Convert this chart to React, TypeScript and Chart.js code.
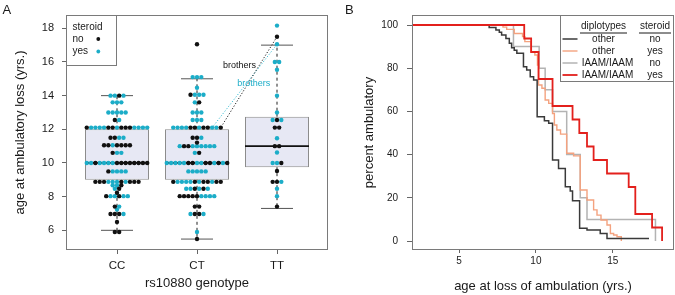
import React, { useEffect, useRef } from "react";
import { Chart, registerables } from "chart.js";

Chart.register(...registerables);

// ---------------- Panel A data ----------------
const GENOTYPES = ["CC", "CT", "TT"];
const Y_TICKS_A = [6, 8, 10, 12, 14, 16, 18];
const WHISKER_LOW = [6.0, 5.48, 7.3];
const BOX_Q1 = [9.0, 9.0, 9.75];
const BOX_MEDIAN = [10.0, 10.0, 11.0];
const BOX_Q3 = [12.0, 12.0, 12.75];
const WHISKER_HIGH = [14.0, 15.0, 17.0];

// swarm rows: [age, steroid per dot left->right] n = no, y = yes
type Row = [number, string];
const CC_ROWS: Row[] = [
  [14.0, "yyny"],
  [13.6, "yyy"],
  [13.0, "yyyyy"],
  [12.55, "ny"],
  [12.1, "nyyyynnynnnyyyy"],
  [11.5, "nnyy"],
  [11.05, "nnynnnn"],
  [10.6, "nyy"],
  [10.0, "yynyyyynnnnnnnn"],
  [9.5, "nyyyy"],
  [8.88, "nnnyyynynnn"],
  [8.68, "yyn"],
  [8.47, "yn"],
  [8.23, "n"],
  [8.03, "nyynyy"],
  [7.41, "ny"],
  [7.23, "y"],
  [6.97, "nnny"],
  [6.5, "n"],
  [5.9, "nn"],
];
const CT_ROWS: Row[] = [
  [17.05, "n"],
  [15.1, "yyy"],
  [14.47, "y"],
  [14.05, "nyyy"],
  [13.6, "yn"],
  [13.0, "yyy"],
  [12.55, "yyy"],
  [12.1, "yyyynnynnyyn"],
  [11.5, "nny"],
  [11.21, "n"],
  [11.0, "ynnyyyyyy"],
  [10.6, "yn"],
  [10.0, "yyyyynnyynnynyn"],
  [9.5, "yyyyy"],
  [8.88, "nyyyynynnynn"],
  [8.47, "yynyny"],
  [8.03, "nnnnnyyyy"],
  [7.41, "nn"],
  [6.97, "ynny"],
  [5.9, "y"],
  [5.48, "n"],
];
const TT_ROWS: Row[] = [
  [18.16, "y"],
  [17.5, "n"],
  [17.05, "y"],
  [16.0, "yy"],
  [15.54, "y"],
  [14.0, "y"],
  [13.0, "y"],
  [12.55, "yny"],
  [12.1, "nn"],
  [11.47, "y"],
  [11.0, "nn"],
  [10.62, "y"],
  [10.0, "yyn"],
  [9.52, "n"],
  [8.88, "nny"],
  [8.47, "y"],
  [8.03, "y"],
  [7.41, "n"],
];
const SWARM_ROWS = [CC_ROWS, CT_ROWS, TT_ROWS];
const STEROID_CODES = ["n", "y"];
const STEROID_LABELS = ["no", "yes"];

// brothers: ends = [genotype (1-based), row age, dot index in row]; label = [x, age]
const BROTHER_LINKS: { code: string; ends: [number, number, number][]; label: [number, number] }[] = [
  { code: "n", ends: [[3, 17.5, 0], [2, 12.1, 11]], label: [2.53, 15.8] },
  { code: "y", ends: [[3, 17.05, 0], [2, 12.1, 9]], label: [2.71, 14.72] },
];

// ---------------- Panel B data (Kaplan-Meier steps) ----------------
const X_TICKS_B = [5, 10, 15];
const Y_TICKS_B = [0, 20, 40, 60, 80, 100];

const OTHER_NO_T = [0, 6.96, 7.4, 7.62, 7.77, 8.05, 8.27, 8.42, 8.59, 8.76, 9.19, 9.4, 9.63, 9.85, 10.08, 10.55, 10.83, 11.08, 11.47, 11.91, 12.23, 12.38, 12.84, 13.32, 14.18, 14.62, 17.35];
const OTHER_NO_P = [100, 98.8, 97.7, 96.6, 95.4, 93.8, 91.5, 89.5, 88.3, 86.9, 80.7, 79.2, 76.1, 74.5, 57.5, 55.7, 54.5, 37.5, 33.6, 25.1, 23.2, 18.6, 5.9, 5.1, 3.5, 1.2, 1.2];

const OTHER_YES_T = [0, 7.86, 8.1, 8.59, 9.13, 9.28, 9.67, 9.93, 10.1, 10.17, 10.39, 10.6, 10.83, 11.08, 11.2, 11.36, 11.6, 12.0, 12.45, 12.88, 13.32, 13.75, 13.97, 14.23, 14.62, 14.84, 15.05, 15.27, 15.55];
const OTHER_YES_P = [100, 99.0, 98.0, 96.1, 94.6, 92.3, 87.6, 86.1, 81.5, 72.2, 70.7, 65.3, 63.7, 59.0, 53.7, 51.4, 49.5, 40.6, 39.4, 23.6, 19.0, 14.4, 12.0, 9.7, 7.4, 3.5, 2.8, 2.0, 0];

const IAAM_NO_T = [0, 8.54, 10.21, 10.6, 11.08, 12.0, 12.88, 13.32, 17.77];
const IAAM_NO_P = [100, 90, 80, 70, 60, 40, 20, 10, 0];

const IAAM_YES_T = [0, 9.24, 9.69, 10.17, 11.08, 12.38, 12.82, 13.32, 13.75, 14.62, 16.03, 16.46, 17.55, 18.2];
const IAAM_YES_P = [100, 93.75, 87.5, 75, 62.5, 56.25, 50, 43.75, 37.5, 31.25, 25, 12.5, 6.25, 0];

const KM_DIPLOTYPES = ["other", "other", "IAAM/IAAM", "IAAM/IAAM"];
const KM_STEROID = ["no", "yes", "no", "yes"];
const KM_TIMES = [OTHER_NO_T, OTHER_YES_T, IAAM_NO_T, IAAM_YES_T];
const KM_PERCENT = [OTHER_NO_P, OTHER_YES_P, IAAM_NO_P, IAAM_YES_P];

// ---------------- styles ----------------
const FONT = "'Liberation Sans', Arial, Helvetica, sans-serif";
const TEXT = "#1a1a1a";
const FRAME = "#7a7a7a";
const TICK = "#666666";
const COL_NO = "#111111";
const COL_YES = "#1cadc8";
const BOX_FILL = "#e7e8f4";
const BOX_EDGE = "#8c8c8c";
const KM_COLORS = ["#3a3a3a", "#f4a27f", "#b3b3b3", "#e3201c"];
const KM_WIDTHS = [1.5, 1.4, 1.5, 1.8];
const KM_DRAW_ORDER = [2, 3, 4, 1]; // lower = drawn later (on top)

const SWARM_STEP = 0.054; // horizontal dot spacing in category units
const CAP_HALF = 0.2;
const BOX_HALF = 0.4;

function swarmX(g: number, row: Row, i: number) {
  return g + (i - (row[1].length - 1) / 2) * SWARM_STEP;
}
function swarmPoints(code: string) {
  const pts: { x: number; y: number }[] = [];
  SWARM_ROWS.forEach((rows, gi) =>
    rows.forEach((row) =>
      row[1].split("").forEach((c, i) => {
        if (c === code) pts.push({ x: swarmX(gi + 1, row, i), y: row[0] });
      })
    )
  );
  return pts;
}
function linkEnd([g, age, idx]: [number, number, number]) {
  const row = SWARM_ROWS[g - 1].find((r) => r[0] === age)!;
  return { x: swarmX(g, row, idx), y: age };
}

const font = (size: number) => ({ family: FONT, size });

function frame(chart: any) {
  const { ctx, chartArea: a } = chart;
  ctx.save();
  ctx.strokeStyle = FRAME;
  ctx.lineWidth = 1;
  ctx.strokeRect(Math.round(a.left) - 0.5, Math.round(a.top) - 0.5, Math.round(a.width) + 1, Math.round(a.height) + 1);
  ctx.restore();
}

const overlayA = {
  id: "overlayA",
  afterDraw(chart: any) {
    const { ctx, chartArea: a, scales } = chart;
    const sx = scales.x, sy = scales.y;
    ctx.save();
    // brothers labels
    ctx.font = `9px ${FONT}`;
    ctx.textAlign = "center";
    ctx.textBaseline = "middle";
    BROTHER_LINKS.forEach((l) => {
      ctx.fillStyle = l.code === "n" ? COL_NO : COL_YES;
      ctx.fillText("brothers", sx.getPixelForValue(l.label[0]), sy.getPixelForValue(l.label[1]));
    });
    // legend
    const lx = Math.round(a.left) - 0.5, ly = Math.round(a.top) - 0.5;
    ctx.fillStyle = "#ffffff";
    ctx.fillRect(lx, ly, 50, 50);
    ctx.strokeStyle = FRAME;
    ctx.lineWidth = 1;
    ctx.strokeRect(lx, ly, 50, 50);
    ctx.font = `10px ${FONT}`;
    ctx.textAlign = "left";
    ctx.fillStyle = TEXT;
    ctx.fillText("steroid", lx + 6, ly + 11.5);
    STEROID_LABELS.forEach((lab, i) => {
      const yy = ly + 23.5 + i * 12.5;
      ctx.fillStyle = TEXT;
      ctx.fillText(lab, lx + 6, yy);
      ctx.fillStyle = STEROID_CODES[i] === "n" ? COL_NO : COL_YES;
      ctx.beginPath();
      ctx.arc(lx + 31.8, yy, 1.9, 0, Math.PI * 2);
      ctx.fill();
    });
    ctx.restore();
    frame(chart);
    ctx.save();
    ctx.fillStyle = TEXT;
    ctx.font = `13px ${FONT}`;
    ctx.textAlign = "left";
    ctx.textBaseline = "alphabetic";
    ctx.fillText("A", 2.5, 14);
    ctx.restore();
  },
};

const overlayB = {
  id: "overlayB",
  afterDraw(chart: any) {
    const { ctx, chartArea: a } = chart;
    frame(chart);
    ctx.save();
    const rx = Math.round(a.right) + 0.5, ty = Math.round(a.top) - 0.5;
    const w = 113, h = 66;
    ctx.fillStyle = "#ffffff";
    ctx.fillRect(rx - w, ty, w, h);
    ctx.strokeStyle = FRAME;
    ctx.lineWidth = 1;
    ctx.strokeRect(rx - w, ty, w, h);
    ctx.font = `10px ${FONT}`;
    ctx.textAlign = "center";
    ctx.textBaseline = "middle";
    ctx.fillStyle = TEXT;
    const c1 = rx - 70, c2 = rx - 18.5;
    const headers: [string, number][] = [["diplotypes", c1], ["steroid", c2]];
    headers.forEach(([t, cx]) => {
      ctx.fillText(t, cx, ty + 11);
      const tw = ctx.measureText(t).width;
      ctx.strokeStyle = TEXT;
      ctx.beginPath();
      ctx.moveTo(cx - tw / 2 - 1, ty + 17.5);
      ctx.lineTo(cx + tw / 2 + 1, ty + 17.5);
      ctx.stroke();
    });
    KM_DIPLOTYPES.forEach((d, i) => {
      const yy = ty + 23.5 + i * 12;
      ctx.strokeStyle = KM_COLORS[i];
      ctx.lineWidth = KM_WIDTHS[i];
      ctx.beginPath();
      ctx.moveTo(rx - w + 2, yy);
      ctx.lineTo(rx - w + 17, yy);
      ctx.stroke();
      ctx.fillStyle = TEXT;
      ctx.fillText(d, c1 + (d.length > 6 ? 4 : 0), yy);
      ctx.fillText(KM_STEROID[i], c2, yy);
    });
    ctx.textAlign = "left";
    ctx.textBaseline = "alphabetic";
    ctx.font = `13px ${FONT}`;
    ctx.fillText("B", 8, 14);
    ctx.restore();
  },
};

function axisCommon(tickLen: number, tickSize: number, pad: number) {
  return {
    type: "linear" as const,
    offset: false,
    grid: { display: true, drawOnChartArea: false, drawTicks: true, tickLength: tickLen, tickColor: TICK, tickWidth: 1, offset: false },
    border: { display: false },
    ticks: { color: TEXT, font: font(tickSize), padding: pad, autoSkip: false, maxRotation: 0, minRotation: 0 },
  };
}

function buildA(canvas: HTMLCanvasElement) {
  const boxes = GENOTYPES.map((_, i) => ({ x: i + 1, y: [BOX_Q1[i], BOX_Q3[i]] }));
  const whiskers: any[] = [];
  const caps: any[] = [];
  const medians: any[] = [];
  GENOTYPES.forEach((_, i) => {
    const g = i + 1;
    whiskers.push({ x: g, y: BOX_Q3[i] }, { x: g, y: WHISKER_HIGH[i] }, { x: g, y: null });
    whiskers.push({ x: g, y: BOX_Q1[i] }, { x: g, y: WHISKER_LOW[i] }, { x: g, y: null });
    caps.push({ x: g - CAP_HALF, y: WHISKER_HIGH[i] }, { x: g + CAP_HALF, y: WHISKER_HIGH[i] }, { x: g, y: null });
    caps.push({ x: g - CAP_HALF, y: WHISKER_LOW[i] }, { x: g + CAP_HALF, y: WHISKER_LOW[i] }, { x: g, y: null });
    medians.push({ x: g - BOX_HALF, y: BOX_MEDIAN[i] }, { x: g + BOX_HALF, y: BOX_MEDIAN[i] }, { x: g, y: null });
  });
  const lineBase = { type: "line" as const, pointRadius: 0, fill: false, spanGaps: false, order: 2 };
  const datasets: any[] = [
    { type: "bar", data: boxes, backgroundColor: BOX_FILL, borderColor: BOX_EDGE, borderWidth: 1, borderSkipped: false, categoryPercentage: 1, barPercentage: BOX_HALF * 2, order: 5 },
    { ...lineBase, data: whiskers, borderColor: "#222222", borderWidth: 1, borderDash: [3, 3] },
    { ...lineBase, data: caps, borderColor: "#555555", borderWidth: 1 },
    { ...lineBase, data: medians, borderColor: "#111111", borderWidth: 1.8, order: 1 },
    ...BROTHER_LINKS.map((l) => ({
      ...lineBase,
      data: l.ends.map(linkEnd),
      borderColor: l.code === "n" ? "#222222" : "#3bbcd2",
      borderWidth: 1,
      borderDash: [1.2, 1.8],
    })),
    ...STEROID_CODES.map((c) => ({
      type: "scatter",
      data: swarmPoints(c),
      pointRadius: 2.2,
      pointBackgroundColor: c === "n" ? COL_NO : COL_YES,
      pointBorderWidth: 0,
      showLine: false,
      order: 0,
    })),
  ];
  const xs = axisCommon(5, 11.5, 5);
  const ys = axisCommon(5, 11, 8);
  return new Chart(canvas, {
    type: "scatter",
    data: { datasets },
    plugins: [overlayA],
    options: {
      animation: false,
      responsive: false,
      maintainAspectRatio: false,
      events: [],
      layout: { padding: { top: 16, right: 10, left: 0, bottom: 0 } },
      plugins: { legend: { display: false }, tooltip: { enabled: false } },
      scales: {
        x: {
          ...xs,
          min: 0.375,
          max: 3.625,
          afterFit: (s: any) => { s.height = 46; },
          afterBuildTicks: (s: any) => { s.ticks = GENOTYPES.map((_, i) => ({ value: i + 1 })); },
          ticks: { ...xs.ticks, callback: (v: any) => GENOTYPES[Math.round(Number(v)) - 1] ?? "" },
          title: { display: true, text: "rs10880 genotype", color: TEXT, font: font(13), padding: { top: 0, bottom: 4 } },
        },
        y: {
          ...ys,
          min: 4.89,
          max: 18.73,
          afterFit: (s: any) => { s.width = 67; },
          afterBuildTicks: (s: any) => { s.ticks = Y_TICKS_A.map((v) => ({ value: v })); },
          ticks: { ...ys.ticks, callback: (v: any) => String(v) },
          title: { display: true, text: "age at ambulatory loss (yrs.)", color: TEXT, font: font(13), padding: { top: 13, bottom: 0 } },
        },
      },
    } as any,
  });
}

function buildB(canvas: HTMLCanvasElement) {
  const datasets: any[] = KM_TIMES.map((ts, k) => ({
    type: "line",
    data: ts.map((t, i) => ({ x: t, y: KM_PERCENT[k][i] })),
    stepped: "before",
    borderColor: KM_COLORS[k],
    borderWidth: KM_WIDTHS[k],
    pointRadius: 0,
    fill: false,
    order: KM_DRAW_ORDER[k],
  }));
  const xs = axisCommon(4, 10, 2);
  const ys = axisCommon(6, 10, 9);
  return new Chart(canvas, {
    type: "scatter",
    data: { datasets },
    plugins: [overlayB],
    options: {
      animation: false,
      responsive: false,
      maintainAspectRatio: false,
      events: [],
      layout: { padding: { top: 16, right: 2, left: 0, bottom: 0 } },
      plugins: { legend: { display: false }, tooltip: { enabled: false } },
      scales: {
        x: {
          ...xs,
          min: 2.01,
          max: 18.91,
          afterFit: (s: any) => { s.height = 46; },
          afterBuildTicks: (s: any) => { s.ticks = X_TICKS_B.map((v) => ({ value: v })); },
          ticks: { ...xs.ticks, callback: (v: any) => String(v) },
          title: { display: true, text: "age at loss of ambulation (yrs.)", color: TEXT, font: font(13), padding: { top: 0, bottom: 1 } },
        },
        y: {
          ...ys,
          min: -3.7,
          max: 104.17,
          afterFit: (s: any) => { s.width = 76; },
          afterBuildTicks: (s: any) => { s.ticks = Y_TICKS_B.map((v) => ({ value: v })); },
          ticks: { ...ys.ticks, callback: (v: any) => String(v) },
          title: { display: true, text: "percent ambulatory", color: TEXT, font: font(13), padding: { top: 25, bottom: 0 } },
        },
      },
    } as any,
  });
}

export default function App() {
  const aRef = useRef<HTMLCanvasElement>(null);
  const bRef = useRef<HTMLCanvasElement>(null);
  useEffect(() => {
    const a = buildA(aRef.current!);
    const b = buildB(bRef.current!);
    return () => {
      a.destroy();
      b.destroy();
    };
  }, []);
  return (
    <div style={{ position: "absolute", left: 0, top: 0, width: 675, height: 295, background: "#ffffff" }}>
      <canvas ref={aRef} width={337} height={295} style={{ position: "absolute", left: 0, top: 0, width: 337, height: 295 }} />
      <canvas ref={bRef} width={338} height={295} style={{ position: "absolute", left: 337, top: 0, width: 338, height: 295 }} />
    </div>
  );
}
